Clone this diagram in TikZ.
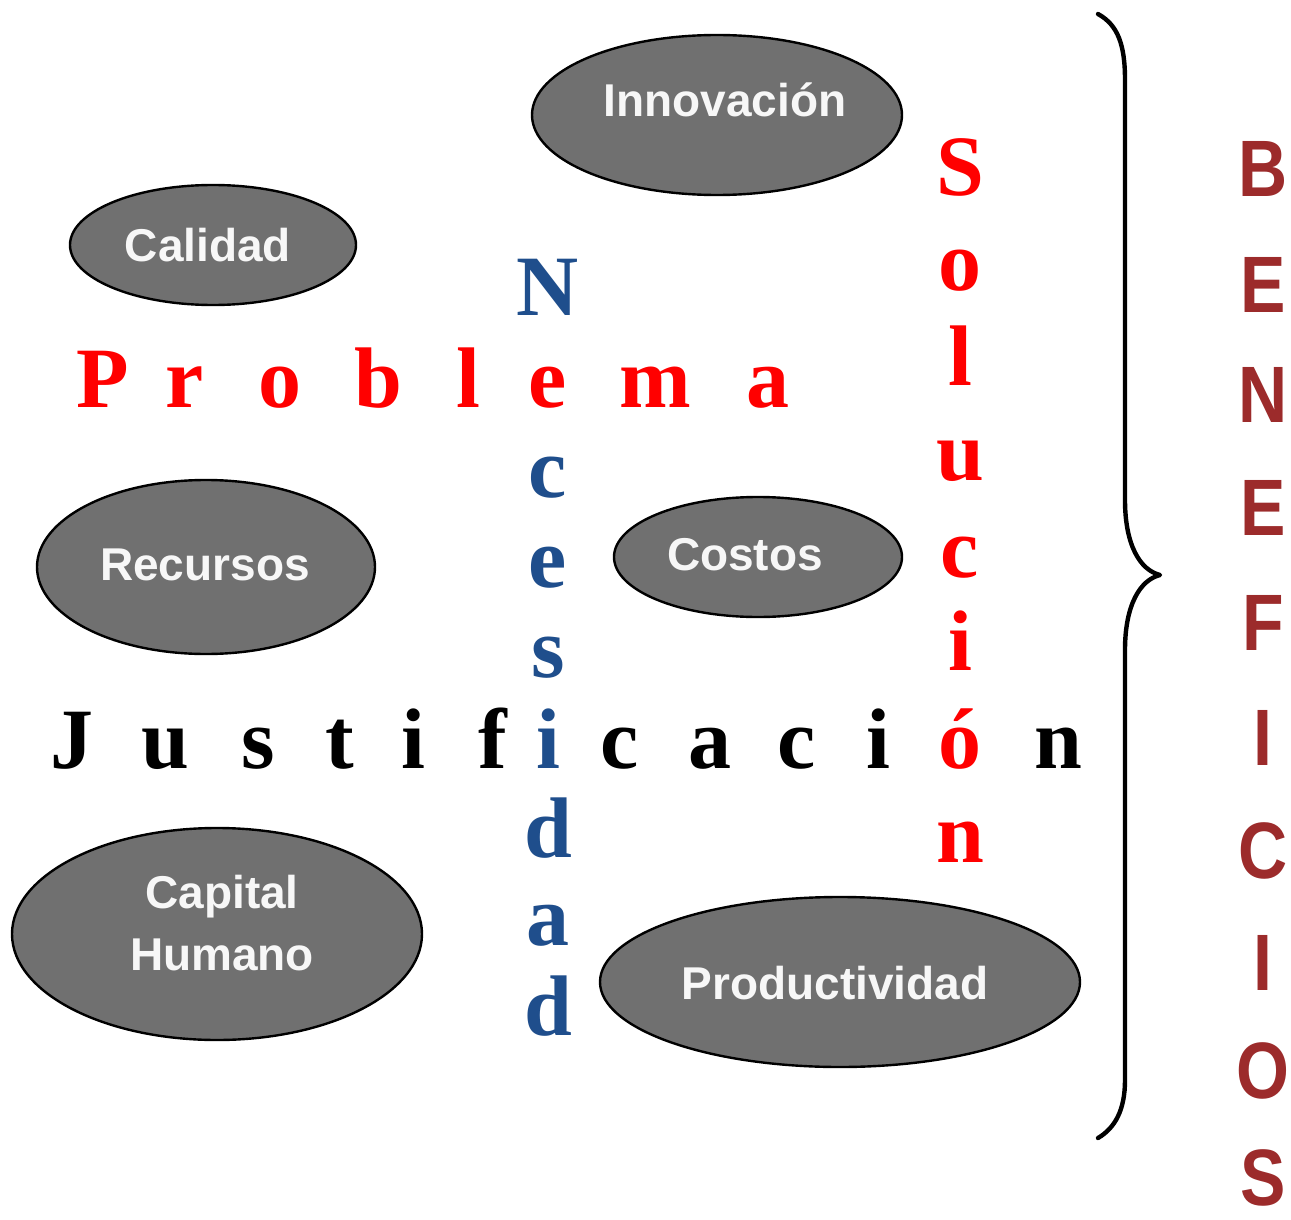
\documentclass[tikz,border=0pt]{standalone}
\usepackage{fontspec}
\setmainfont{Liberation Serif}
\newfontfamily\sansbold{Liberation Sans}[BoldFont={* Bold}]
\usetikzlibrary{shapes.geometric}
\definecolor{ellgray}{RGB}{112,112,112}
\definecolor{necblue}{RGB}{31,78,140}
\definecolor{benred}{RGB}{156,43,43}
\definecolor{solred}{RGB}{255,0,0}
\tikzset{
  ell/.style={ellipse, draw=black, line width=1.2pt, fill=ellgray, inner sep=0pt},
  elltext/.style={text=white!94!gray, font=\sansbold\bfseries\fontsize{23pt}{25pt}\selectfont, align=center, inner sep=0pt},
  letter/.style={anchor=base, inner sep=0pt, font=\bfseries\fontsize{43pt}{45pt}\selectfont},
  prob/.style={letter, text=solred},
  just/.style={letter, text=black},
  nec/.style={letter, text=necblue},
  sol/.style={letter, text=solred},
  ben/.style={anchor=base, inner sep=0pt, text=benred, xscale=0.85, font=\sansbold\bfseries\fontsize{40pt}{42pt}\selectfont},
}
\begin{document}
\begin{tikzpicture}[x=0.5pt,y=-0.5pt]
\useasboundingbox[fill=white] (0,0) rectangle (1291,1220);
% ellipses
\node[ell, minimum width=185pt, minimum height=80pt] (innov) at (717,115) {};
\node[elltext] (innovT) at (725,100) {Innovación};
\node[ell, minimum width=143pt, minimum height=60pt] (calid) at (213,245) {};
\node[elltext] (calidT) at (208,245) {Calidad};
\node[ell, minimum width=169pt, minimum height=87pt] (recur) at (206,567) {};
\node[elltext] (recurT) at (205,565) {Recursos};
\node[ell, minimum width=144pt, minimum height=60pt] (costo) at (758,557) {};
\node[elltext] (costoT) at (745,555) {Costos};
\node[ell, minimum width=205pt, minimum height=106pt] (capit) at (217,934) {};
\node[elltext] (capitT1) at (222,897) {Capital};
\node[elltext] (capitT2) at (222,955) {Humano};
\node[ell, minimum width=240pt, minimum height=85pt] (produ) at (840,982) {};
\node[elltext] (produT) at (835,983) {Productividad};
% Problema
\foreach \ch/\x [count=\i] in {P/103,r/185,o/280,b/378,l/468,e/548,m/655,a/768}
  \node[prob] (prob\i) at (\x,407) {\ch};
% Justificación (i at 548 blue, ó at 960 red)
\foreach \ch/\x [count=\i] in {J/72,u/165,s/258,t/340,i/413,f/493,c/620,a/710,c/797,i/878,n/1058}
  \node[just] (just\i) at (\x,768) {\ch};
\node[nec] (necI) at (548,768) {i};
\node[sol] (solO) at (960,768) {ó};
% Necesidad
\foreach \ch/\y [count=\i] in {N/315,c/497,e/587,s/677,d/857,a/945,d/1035}
  \node[nec] (nec\i) at (548,\y) {\ch};
% Solución
\foreach \ch/\y [count=\i] in {S/195,o/290,l/385,u/480,c/577,i/670,n/862}
  \node[sol] (sol\i) at (960,\y) {\ch};
% BENEFICIOS
\foreach \ch/\y [count=\i] in {B/197,E/312,N/422,E/535,F/650,I/765,C/878,I/990,O/1098,S/1205}
  \node[ben] (ben\i) at (1263,\y) {\ch};
% brace
\draw[line width=2.2pt, line cap=round, line join=round]
  (1098,14) .. controls (1118,25) and (1125,45) .. (1125,80) -- (1125,500)
  .. controls (1125,545) and (1140,570) .. (1160,575)
  .. controls (1140,580) and (1125,605) .. (1125,650) -- (1125,1080)
  .. controls (1125,1110) and (1115,1128) .. (1098,1138);
\end{tikzpicture}
\end{document}
